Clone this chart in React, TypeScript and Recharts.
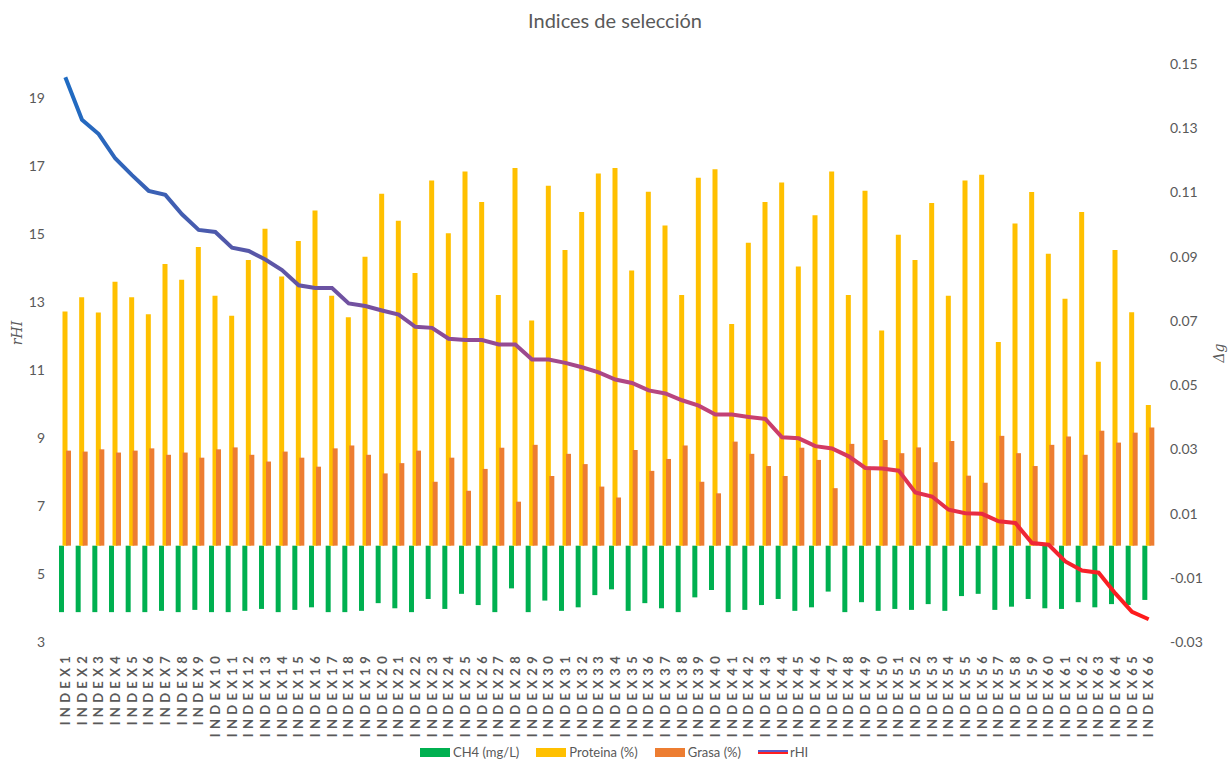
import React from "react";
import { ComposedChart, Bar, Line, XAxis, YAxis } from "recharts";

const categories = Array.from({ length: 66 }, (_, i) => `INDEX${i + 1}`);

const rhi = [
  19.61, 18.36, 17.94, 17.22, 16.73, 16.27, 16.15, 15.58, 15.12, 15.06,
  14.6, 14.5, 14.25, 13.94, 13.49, 13.41, 13.41, 12.96, 12.88, 12.75,
  12.63, 12.27, 12.24, 11.92, 11.88, 11.88, 11.75, 11.75, 11.31, 11.31,
  11.21, 11.08, 10.93, 10.72, 10.62, 10.4, 10.31, 10.11, 9.95, 9.69,
  9.69, 9.62, 9.56, 9.02, 8.99, 8.76, 8.69, 8.46, 8.12, 8.1,
  8.04, 7.4, 7.28, 6.89, 6.79, 6.77, 6.55, 6.5, 5.91, 5.86,
  5.37, 5.1, 5.04, 4.43, 3.89, 3.67,
];

const proteina = [
  0.0729, 0.0774, 0.0726, 0.0822, 0.0774, 0.0721, 0.0877, 0.0828, 0.093, 0.0778,
  0.0716, 0.089, 0.0987, 0.0838, 0.0949, 0.1044, 0.0778, 0.0711, 0.09, 0.1096,
  0.1012, 0.0849, 0.1137, 0.0973, 0.1165, 0.107, 0.0781, 0.1176, 0.0701, 0.1121,
  0.0921, 0.1039, 0.1159, 0.1176, 0.0857, 0.1102, 0.0997, 0.0781, 0.1146, 0.1172,
  0.069, 0.0943, 0.107, 0.1131, 0.0869, 0.1029, 0.1165, 0.0781, 0.1105, 0.067,
  0.0968, 0.089, 0.1067, 0.0778, 0.1137, 0.1155, 0.0634, 0.1003, 0.1101, 0.0909,
  0.0769, 0.1039, 0.0573, 0.0921, 0.0727, 0.0438,
];

const grasa = [
  0.0296, 0.0293, 0.03, 0.029, 0.0296, 0.0303, 0.0283, 0.029, 0.0274, 0.03,
  0.0306, 0.0283, 0.0262, 0.0293, 0.0274, 0.0246, 0.0303, 0.0312, 0.0283, 0.0225,
  0.0257, 0.0296, 0.0199, 0.0274, 0.0171, 0.0239, 0.0305, 0.0137, 0.0314, 0.0217,
  0.0286, 0.0254, 0.0184, 0.015, 0.0298, 0.0233, 0.027, 0.0312, 0.0199, 0.0163,
  0.0324, 0.0286, 0.0248, 0.0217, 0.0305, 0.0267, 0.0179, 0.0317, 0.0246, 0.0329,
  0.0288, 0.0306, 0.026, 0.0326, 0.0218, 0.0196, 0.0342, 0.0288, 0.0248, 0.0314,
  0.034, 0.0283, 0.0358, 0.0321, 0.0352, 0.0368,
];

const ch4 = [
  -0.0207, -0.0207, -0.0207, -0.0207, -0.0207, -0.0207, -0.0203, -0.0207, -0.02, -0.0207,
  -0.0207, -0.0203, -0.0197, -0.0207, -0.02, -0.0192, -0.0207, -0.0207, -0.0203, -0.0179,
  -0.0195, -0.0207, -0.0166, -0.0197, -0.015, -0.0185, -0.0207, -0.0133, -0.0207, -0.0171,
  -0.0203, -0.0192, -0.0154, -0.0136, -0.0203, -0.0179, -0.0195, -0.0207, -0.0161, -0.0138,
  -0.0207, -0.02, -0.0185, -0.0166, -0.0203, -0.0192, -0.0143, -0.0207, -0.0176, -0.0203,
  -0.0197, -0.02, -0.0182, -0.0203, -0.0157, -0.015, -0.02, -0.019, -0.0166, -0.0195,
  -0.0197, -0.0176, -0.0192, -0.0182, -0.0185, -0.0169,
];

const leftTicks = [3, 5, 7, 9, 11, 13, 15, 17, 19];
const rightTicks = [-0.03, -0.01, 0.01, 0.03, 0.05, 0.07, 0.09, 0.11, 0.13, 0.15];

const data = categories.map((name, i) => ({
  name,
  ch4: ch4[i],
  proteina: proteina[i],
  grasa: grasa[i],
  rhi: rhi[i],
}));

const FONT = "Lato, 'Open Sans', sans-serif";
const GREY = "#595959";

function XTick({ x, y, payload }: any) {
  return (
    <text
      transform={`translate(${x},${y}) rotate(-90)`}
      textAnchor="end"
      dy="0.36em"
      fontFamily={FONT}
      fontSize={13}
      fontWeight={700}
      letterSpacing={4.3}
      fill={GREY}
    >
      {payload.value}
    </text>
  );
}

const legendItems = [
  { label: "CH4 (mg/L)", color: "#00B050" },
  { label: "Proteina (%)", color: "#FFC000" },
  { label: "Grasa (%)", color: "#ED7D31" },
];

export default function App() {
  return (
    <div style={{ position: "absolute", left: 0, top: 0, width: 1230, height: 763, background: "#fff", fontFamily: FONT }}>
      <div style={{ position: "absolute", top: 8, width: 1230, textAlign: "center", fontSize: 20, color: GREY }}>
        Indices de selección
      </div>

      <ComposedChart
        width={1230}
        height={763}
        data={data}
        margin={{ top: 64, right: 0, bottom: 0, left: 0 }}
        barSize={5}
        barGap={-1.5}
      >
        <defs>
          <linearGradient id="rhiGrad" x1="0" y1="0" x2="1" y2="0">
            <stop offset="0%" stopColor="#1F6BC2" />
            <stop offset="15%" stopColor="#5158AA" />
            <stop offset="35%" stopColor="#8A4C99" />
            <stop offset="55%" stopColor="#B84680" />
            <stop offset="75%" stopColor="#DC3658" />
            <stop offset="100%" stopColor="#FF1A1A" />
          </linearGradient>
        </defs>
        <XAxis
          dataKey="name"
          interval={0}
          height={121}
          axisLine={false}
          tickLine={false}
          tickSize={0}
          tickMargin={10}
          tick={<XTick />}
        />
        <YAxis
          yAxisId="left"
          domain={[3, 20]}
          ticks={leftTicks}
          interval={0}
          width={57}
          axisLine={false}
          tickLine={false}
          tickSize={0}
          tickMargin={12}
          tick={{ fill: GREY, fontSize: 14, fontFamily: FONT }}
        />
        <YAxis
          yAxisId="right"
          orientation="right"
          domain={[-0.03, 0.15]}
          ticks={rightTicks}
          interval={0}
          width={73}
          axisLine={false}
          tickLine={false}
          tickSize={0}
          tickMargin={13}
          tickFormatter={(v: number) => v.toFixed(2)}
          tick={{ fill: GREY, fontSize: 14, fontFamily: FONT, textAnchor: "start" }}
        />
        <Bar yAxisId="right" dataKey="ch4" fill="#00B050" isAnimationActive={false} />
        <Bar yAxisId="right" dataKey="proteina" fill="#FFC000" isAnimationActive={false} />
        <Bar yAxisId="right" dataKey="grasa" fill="#ED7D31" isAnimationActive={false} />
        <Line
          yAxisId="left"
          dataKey="rhi"
          type="linear"
          stroke="url(#rhiGrad)"
          strokeWidth={4}
          dot={false}
          activeDot={false}
          isAnimationActive={false}
        />
      </ComposedChart>

      <div
        style={{
          position: "absolute",
          left: 5,
          top: 333,
          transform: "translate(0,-50%) rotate(-90deg)",
          fontFamily: "'DejaVu Serif', serif",
          fontStyle: "italic",
          fontSize: 14,
          color: GREY,
        }}
      >
        rHI
      </div>
      <div
        style={{
          position: "absolute",
          left: 1209,
          top: 353,
          transform: "translate(0,-50%) rotate(-90deg)",
          fontFamily: "'DejaVu Serif', serif",
          fontStyle: "italic",
          fontSize: 14,
          color: GREY,
        }}
      >
        Δg
      </div>

      <div
        style={{
          position: "absolute",
          top: 744,
          left: 420,
          display: "flex",
          alignItems: "center",
          fontSize: 13,
          color: GREY,
        }}
      >
        {legendItems.map((it) => (
          <div key={it.label} style={{ display: "flex", alignItems: "center", marginRight: 17 }}>
            <span style={{ width: 30, height: 9, background: it.color, marginRight: 3 }} />
            <span>{it.label}</span>
          </div>
        ))}
        <div style={{ display: "flex", alignItems: "center" }}>
          <span style={{ display: "flex", flexDirection: "column", width: 30, marginRight: 2 }}>
            <span style={{ height: 2, background: "#5B5BC8" }} />
            <span style={{ height: 2, background: "#FF2020" }} />
          </span>
          <span>rHI</span>
        </div>
      </div>
    </div>
  );
}
